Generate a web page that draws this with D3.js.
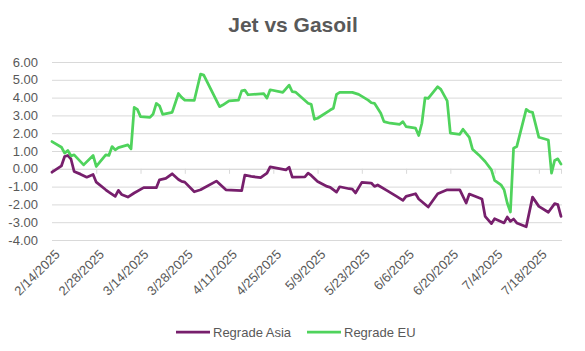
<!DOCTYPE html>
<html>
<head>
<meta charset="utf-8">
<script src="https://cdn.jsdelivr.net/npm/d3@7"></script>
<style>
  body { margin: 0; background: #fff; }
  text { font-family: "Liberation Sans", Arial, sans-serif; }
</style>
</head>
<body>
<div id="chart"></div>
<script>
(() => {

    var W = 585, H = 351;
    var margin = { top: 62, right: 23, bottom: 111, left: 52 },
        width = W - margin.left - margin.right,
        height = H - margin.top - margin.bottom;

    var tickLabels = ["2/14/2025", "2/28/2025", "3/14/2025", "3/28/2025", "4/11/2025", "4/25/2025",
        "5/9/2025", "5/23/2025", "6/6/2025", "6/20/2025", "7/4/2025", "7/18/2025"];
    var yTicks = [6, 5, 4, 3, 2, 1, 0, -1, -2, -3, -4];

    var asiaDates = ["2/14", "2/17", "2/18", "2/19", "2/20", "2/21", "2/23", "2/25", "2/27", "2/28",
        "3/3", "3/4", "3/6", "3/7", "3/8", "3/10", "3/12", "3/15", "3/19", "3/20", "3/22", "3/24",
        "3/26", "3/27", "3/28", "3/31", "4/2", "4/7", "4/10", "4/15", "4/16", "4/18", "4/21", "4/23",
        "4/24", "4/29", "4/30", "5/1", "5/5", "5/6", "5/7", "5/9", "5/12", "5/13", "5/15", "5/16",
        "5/19", "5/20", "5/21", "5/23", "5/26", "5/27", "5/28", "5/31", "6/3", "6/5", "6/6", "6/9",
        "6/10", "6/13", "6/16", "6/19", "6/23", "6/25", "6/26", "6/30", "7/1", "7/3", "7/4", "7/7",
        "7/8", "7/9", "7/10", "7/11", "7/14", "7/16", "7/18", "7/21", "7/23", "7/24", "7/25"];
    var asiaValues = [-0.19, 0.17, 0.69, 0.75, 0.55, -0.15, -0.30, -0.47, -0.32, -0.75,
        -1.18, -1.31, -1.55, -1.21, -1.44, -1.59, -1.36, -1.06, -1.06, -0.62, -0.54, -0.28,
        -0.60, -0.71, -0.75, -1.29, -1.18, -0.69, -1.18, -1.23, -0.35, -0.43, -0.49, -0.24,
        0.11, -0.06, 0.09, -0.47, -0.45, -0.24, -0.37, -0.71, -0.99, -1.04, -1.31, -1.01,
        -1.12, -1.14, -1.36, -0.76, -0.80, -0.99, -0.91, -1.23, -1.55, -1.77, -1.55, -1.40,
        -1.70, -2.15, -1.40, -1.18, -1.18, -1.92, -1.42, -1.70, -2.67, -3.08, -2.80, -3.04,
        -2.71, -2.95, -2.82, -3.04, -3.26, -1.59, -2.11, -2.44, -1.96, -2.01, -2.67];

    var euDates = ["2/14", "2/17", "2/18", "2/19", "2/20", "2/21", "2/24", "2/27", "2/28",
        "3/3", "3/4", "3/5", "3/6", "3/7", "3/10", "3/11", "3/12", "3/13", "3/14", "3/17", "3/18",
        "3/19", "3/20", "3/21", "3/24", "3/25", "3/26", "3/27", "3/28", "3/31", "4/1", "4/2", "4/3",
        "4/8", "4/9", "4/11", "4/14", "4/15", "4/16", "4/17", "4/22", "4/23", "4/24", "4/28", "4/30",
        "5/1", "5/2", "5/6", "5/7", "5/8", "5/9", "5/13", "5/14", "5/15", "5/16", "5/20", "5/22",
        "5/25", "5/26", "5/27", "5/29", "5/30", "6/1", "6/4", "6/5", "6/6", "6/9", "6/10", "6/11",
        "6/12", "6/13", "6/16", "6/17", "6/19", "6/20", "6/23", "6/24", "6/26", "6/27", "6/29",
        "7/1", "7/3", "7/4", "7/6", "7/7", "7/8", "7/9", "7/10", "7/11", "7/14", "7/15", "7/16",
        "7/18", "7/21", "7/22", "7/23", "7/24", "7/25"];
    var euValues = [1.53, 1.21, 0.88, 1.03, 0.73, 0.78, 0.22, 0.75, 0.13,
        0.78, 0.75, 1.25, 1.06, 1.19, 1.34, 1.12, 3.45, 3.34, 2.93, 2.89, 3.08,
        3.67, 3.54, 3.06, 3.17, 3.70, 4.23, 4.01, 3.86, 3.84, 4.58, 5.32, 5.26,
        3.49, 3.58, 3.82, 3.86, 4.38, 4.42, 4.16, 4.22, 3.97, 4.44, 4.29, 4.70,
        4.33, 4.31, 3.68, 3.62, 2.78, 2.84, 3.30, 3.40, 4.18, 4.29, 4.29, 4.18,
        3.86, 3.71, 3.68, 3.12, 2.65, 2.56, 2.50, 2.65, 2.37, 2.28, 1.87, 2.56,
        3.99, 3.96, 4.61, 4.46, 3.82, 2.00, 1.94, 2.22, 1.77, 1.10, 0.78,
        0.41, -0.06, -0.65, -0.90, -1.18, -1.92, -2.43, 1.16, 1.25, 3.34, 3.21, 3.17,
        1.77, 1.62, -0.24, 0.47, 0.56, 0.26];

    var seriesNames = ["Regrade Asia", "Regrade EU"];
    var seriesColors = ["#771f6c", "#4fd35c"];

    var parse = d3.timeParse("%m/%d/%Y");
    var series = [
        asiaDates.map((d, i) => ({ date: parse(d + "/2025"), value: asiaValues[i] })),
        euDates.map((d, i) => ({ date: parse(d + "/2025"), value: euValues[i] }))
    ];
    var ticks = tickLabels.map(parse);

    var svg = d3.select("#chart")
        .append("svg")
        .attr("width", W)
        .attr("height", H);

    var g = svg.append("g")
        .attr("transform", "translate(" + margin.left + "," + margin.top + ")");

    var x = d3.scaleTime()
        .domain([parse("2/14/2025"), parse("7/25/2025")])
        .range([0, width - 1]);

    var y = d3.scaleLinear()
        .domain([-4, 6])
        .range([height, 0]);

    // title
    svg.append("text")
        .attr("x", 293)
        .attr("y", 32)
        .attr("text-anchor", "middle")
        .style("font-size", "21px")
        .style("font-weight", "bold")
        .style("fill", "#595959")
        .text("Jet vs Gasoil");

    // gridlines + y labels
    var yAxis = g.append("g")
        .call(d3.axisLeft(y).tickValues(yTicks).tickSize(-width).tickFormat(d => d.toFixed(2)));
    yAxis.select(".domain").remove();
    yAxis.selectAll("line").attr("stroke", "#d9d9d9");
    yAxis.selectAll("text")
        .attr("x", -14)
        .style("font-size", "13px")
        .style("fill", "#595959");

    // horizontal axis crosses at zero
    var xAxis = g.append("g")
        .attr("transform", "translate(0," + y(0) + ")")
        .call(d3.axisBottom(x).tickValues(ticks).tickSize(5).tickFormat(""));
    xAxis.select(".domain").attr("stroke", "#d9d9d9");
    xAxis.selectAll("line").attr("stroke", "#d9d9d9");

    // date labels under the plot
    var xLabels = g.append("g")
        .attr("transform", "translate(0," + height + ")")
        .call(d3.axisBottom(x).tickValues(ticks).tickSize(0).tickFormat(d3.timeFormat("%-m/%-d/%Y")));
    xLabels.select(".domain").remove();
    xLabels.selectAll("text")
        .attr("text-anchor", "end")
        .attr("transform", "translate(5,12) rotate(-45)")
        .attr("dy", "0.35em")
        .attr("y", 0)
        .style("font-size", "13px")
        .style("fill", "#595959");

    var line = d3.line()
        .x(d => x(d.date))
        .y(d => y(d.value));

    g.selectAll(".series")
        .data(series)
        .enter()
        .append("path")
        .attr("class", "series")
        .attr("d", line)
        .attr("fill", "none")
        .attr("stroke", (d, i) => seriesColors[i])
        .attr("stroke-width", 2.75)
        .attr("stroke-linejoin", "round")
        .attr("stroke-linecap", "round");

    // legend
    var legendX = [176, 307];
    var legend = svg.selectAll(".legend")
        .data(seriesNames)
        .enter()
        .append("g")
        .attr("transform", (d, i) => "translate(" + legendX[i] + ",332)");
    legend.append("line")
        .attr("x1", 0).attr("x2", 34)
        .attr("stroke", (d, i) => seriesColors[i])
        .attr("stroke-width", 2.75);
    legend.append("text")
        .attr("x", 37)
        .attr("dy", "0.35em")
        .style("font-size", "13px")
        .style("fill", "#595959")
        .text(d => d);

})();
</script>
</body>
</html>
